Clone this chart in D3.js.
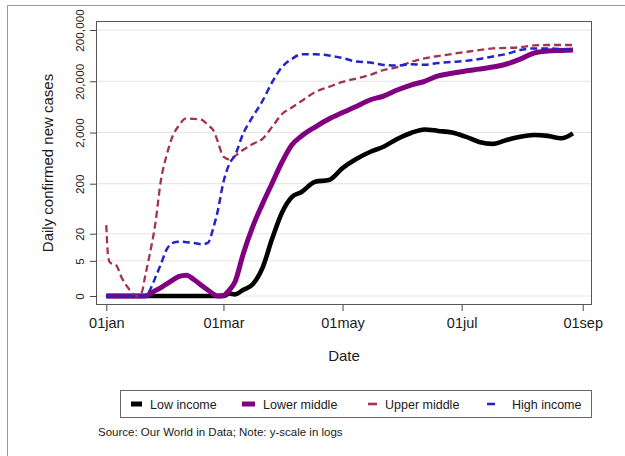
<!DOCTYPE html>
<html><head><meta charset="utf-8">
<script src="https://cdn.jsdelivr.net/npm/d3@7"></script>
<style>
body{margin:0;background:#fff;}
text{font-family:"Liberation Sans",Arial,Helvetica,sans-serif;fill:#1a1a1a;}
</style>
</head><body>
<svg id="chart" width="625" height="456"></svg>
<script>
// ---- data (daily confirmed new cases, 7-day smoothed, by income group) ----
const startDate = "2020-01-01";
const dayOffsets = [0,1,2,5,8,12,15,18,20,22,25,28,31,34,37,41,45,49,52,55,57,60,63,66,70,75,80,85,90,95,100,107,114,121,128,135,142,149,156,163,170,177,184,191,198,205,212,219,226,233,239];
const lowIncome = [0,0,0,0,0,0,0,0,0,0,0,0,0,0,0,0,0,0,0,0,0,0,0.15,0.1,0.4,0.9,3.3,16,54,109,137,219,236,405,608,835,1058,1500,1960,2300,2150,2000,1660,1310,1200,1430,1660,1790,1720,1545,1930];
const lowerMiddle = [0,0,0,0,0,0,0,0,0,0.1,0.35,0.6,0.95,1.35,1.8,2.0,1.4,0.75,0.4,0.1,0,0.03,0.4,1.2,7,28,80,207,532,1143,1712,2565,3680,4900,6450,8630,10300,13500,16900,20000,25400,28600,31800,34500,37900,43400,54000,71000,78000,80000,81300];
const upperMiddle = [30,6,4.5,3.9,1.6,0.4,0,0.2,2.0,6.3,30,236,745,1710,2680,3790,3680,3520,2800,2150,1370,675,600,700,910,1200,1500,2600,4600,6150,8250,12350,15500,19400,22600,26500,33200,37900,47600,56000,62200,68100,74500,81300,87500,89500,92000,100000,102000,102000,102000];
const highIncome = [0,0,0,0,0,0,0,0,0,0.3,1.6,4.2,9.4,12.8,13.6,13.3,12.8,12,12.8,28,56,216,486,730,1870,4070,8250,19400,37900,54400,67000,67000,63700,56800,48500,46500,41500,40500,43000,42000,45400,47600,50000,54400,61000,68100,81300,87500,87500,85000,81300];
const seriesNames = ["Low income","Lower middle","Upper middle","High income"];
const yTickValues = [0,5,20,200,2000,20000,200000];
const xTickDates = ["2020-01-01","2020-03-01","2020-05-01","2020-07-01","2020-09-01"];
const xDomain = ["2020-01-01","2020-09-01"];

// ---- styles ----
const styles = [
  {color:"#000000", width:4.6, dash:null},
  {color:"#800080", width:5,   dash:null},
  {color:"#a3334f", width:2.3, dash:"7,4"},
  {color:"#2323c8", width:2.5, dash:"7,4"}
];

const parse = d3.timeParse("%Y-%m-%d");
const t0 = parse(startDate);
const dates = dayOffsets.map(d => d3.timeDay.offset(t0, d));
const allSeries = [lowIncome, lowerMiddle, upperMiddle, highIncome];

const svg = d3.select("#chart");
const plot = {left:96, top:21, right:592, bottom:305};

// outer frame
svg.append("rect").attr("x",7.5).attr("y",5.5).attr("width",700).attr("height",600)
  .attr("fill","none").attr("stroke","#9a9a9a").attr("stroke-width",1);

const x = d3.scaleTime().domain(xDomain.map(parse)).range([106.3, 582.7]);
const y = d3.scaleSymlog().constant(1.3).domain([0,200000]).range([296,30]);

// gridlines
svg.append("g").selectAll("line").data(yTickValues).join("line")
  .attr("x1",plot.left).attr("x2",plot.right)
  .attr("y1",d=>y(d)).attr("y2",d=>y(d))
  .attr("stroke","#e4e4e4").attr("stroke-width",1);

// lines
svg.append("clipPath").attr("id","clip").append("rect")
  .attr("x",plot.left).attr("y",plot.top).attr("width",plot.right-plot.left).attr("height",plot.bottom-plot.top);
const line = d3.line().x((d,i)=>x(dates[i])).y(d=>y(d)).curve(d3.curveMonotoneX);
const lg = svg.append("g").attr("clip-path","url(#clip)");
allSeries.forEach((s,k)=>{
  lg.append("path").datum(s).attr("d",line)
    .attr("fill","none").attr("stroke",styles[k].color)
    .attr("stroke-width",styles[k].width)
    .attr("stroke-dasharray",styles[k].dash)
    .attr("stroke-linejoin","round").attr("stroke-linecap","butt");
});

// plot border
svg.append("rect").attr("x",plot.left+0.5).attr("y",plot.top+0.5)
  .attr("width",plot.right-plot.left-1).attr("height",plot.bottom-plot.top-1)
  .attr("fill","none").attr("stroke","#555").attr("stroke-width",1);

// y axis
const yAxis = svg.append("g").attr("transform",`translate(${plot.left},0)`)
  .call(d3.axisLeft(y).tickValues(yTickValues).tickFormat(d3.format(",")).tickSize(6));
yAxis.select(".domain").remove();
yAxis.selectAll(".tick line").attr("stroke","#444");
yAxis.selectAll(".tick text")
  .attr("x",0).attr("y",0).attr("dy","0.35em")
  .attr("transform","translate(-16,0) rotate(-90)")
  .attr("text-anchor","middle")
  .style("font-size","11.8px").attr("fill","#1a1a1a");

// x axis
const xAxis = svg.append("g").attr("transform",`translate(0,${plot.bottom})`)
  .call(d3.axisBottom(x).tickValues(xTickDates.map(parse))
    .tickFormat(d=>d3.timeFormat("%d%b")(d).toLowerCase()).tickSize(6).tickPadding(7));
xAxis.select(".domain").remove();
xAxis.selectAll(".tick line").attr("stroke","#444");
xAxis.selectAll(".tick text").style("font-size","14.5px").attr("fill","#1a1a1a");

// axis titles
svg.append("text").attr("x",344).attr("y",361).attr("text-anchor","middle")
  .style("font-size","15px").text("Date");
svg.append("text").attr("transform","translate(48,163) rotate(-90)")
  .attr("text-anchor","middle").attr("dy","0.35em")
  .style("font-size","15px").text("Daily confirmed new cases");

// legend
const leg = svg.append("g");
leg.append("rect").attr("x",120.5).attr("y",390.5).attr("width",471).attr("height",27)
  .attr("fill","#fff").attr("stroke","#666");
const keyX = [131, 242, 368, 487];
const keyLen = [11, 13, 9, 8];
const textX = [150, 263, 385, 512];
seriesNames.forEach((n,k)=>{
  leg.append("line").attr("x1",keyX[k]).attr("x2",keyX[k]+keyLen[k])
    .attr("y1",404).attr("y2",404)
    .attr("stroke",styles[k].color).attr("stroke-width",k<2?5:2.6);
  leg.append("text").attr("x",textX[k]).attr("y",408.5)
    .style("font-size","12.5px").text(n);
});

svg.append("text").attr("x",98).attr("y",436).style("font-size","11.5px")
  .text("Source: Our World in Data; Note: y-scale in logs");
</script>
</body></html>
